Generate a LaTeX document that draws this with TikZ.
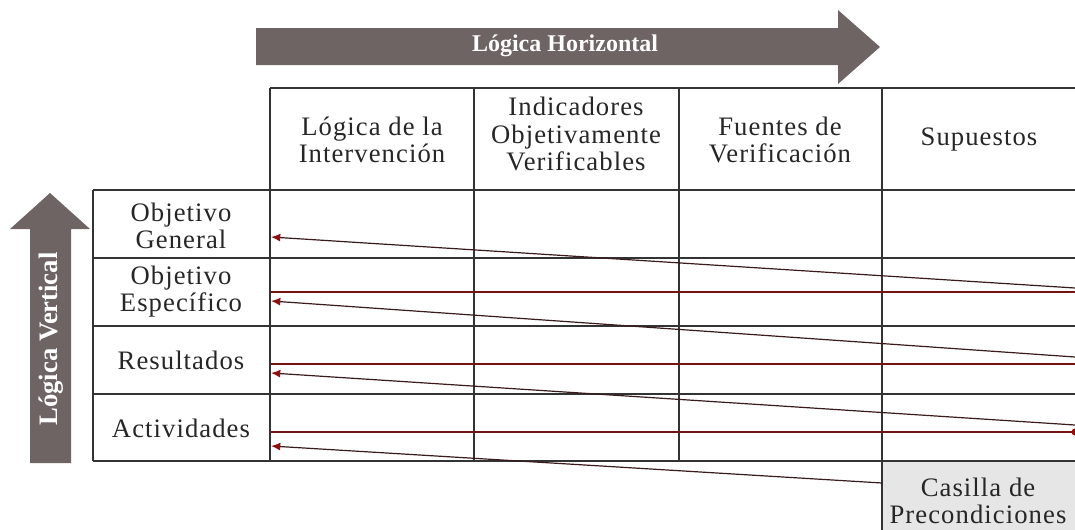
\documentclass[tikz,border=0pt]{standalone}
\usepackage{fontspec}
\setmainfont{Liberation Serif}
\newfontfamily\cellfont[LetterSpace=4]{Liberation Serif}
\usetikzlibrary{arrows.meta}
\definecolor{arrowgray}{HTML}{6D6463}
\definecolor{gridline}{HTML}{333333}
\definecolor{linkline}{HTML}{3A1A1A}
\definecolor{linkred}{HTML}{8E1010}
\definecolor{boxgray}{HTML}{E6E6E6}
\tikzset{
  cell/.style={align=center, font=\cellfont\fontsize{20}{20.3}\selectfont, text=black!85, inner sep=0pt},
  grid/.style={draw=gridline, line width=1.2pt},
  bigarrow/.style={fill=arrowgray, draw=none},
  arrowlabel/.style={font=\bfseries\fontsize{18}{18}\selectfont, text=white, inner sep=0pt},
  link/.style={draw=linkline, line width=0.9pt, -{Latex[length=7pt,width=6pt,color=linkred]}},
  hline/.style={draw=linkline!70!red, line width=0.8pt}
}
\begin{document}
\begin{tikzpicture}[x=0.75pt,y=-0.75pt]
\useasboundingbox (0,0) rectangle (1075,529);
\begin{scope}
\clip (0,0) rectangle (1075,529);
% Casilla box
\fill[boxgray] (882,461) rectangle (1080,535);
% top arrow
\path[bigarrow] (256,28) -- (838,28) -- (838,10) -- (880,47) -- (838,84) -- (838,65) -- (256,65) -- cycle;
\node[arrowlabel] (horiz) at (565,46) {Lógica Horizontal};
% left arrow
\path[bigarrow] (30,463) -- (30,229) -- (10,229) -- (50,193) -- (90,229) -- (71,229) -- (71,463) -- cycle;
\node[arrowlabel, font=\bfseries\fontsize{20}{20}\selectfont, rotate=90] (vert) at (51,339) {Lógica Vertical};
% grid
\draw[grid] (270,88) -- (1080,88);
\draw[grid] (93,190) -- (1080,190);
\draw[grid] (93,258) -- (1080,258);
\draw[grid] (93,326) -- (1080,326);
\draw[grid] (93,394) -- (1080,394);
\draw[grid] (93,461) -- (1080,461);
\draw[grid] (93,190) -- (93,461);
\draw[grid] (270,88) -- (270,461);
\draw[grid] (474,88) -- (474,461);
\draw[grid] (679,88) -- (679,461);
\draw[grid] (882,88) -- (882,535);
% header
\node[cell] (h1) at (372,140) {Lógica de la\\Intervención};
\node[cell] (h2) at (576,134) {Indicadores\\Objetivamente\\Verificables};
\node[cell] (h3) at (780,140) {Fuentes de\\Verificación};
\node[cell] (h4) at (979,140) {Supuestos};
% rows
\node[cell] (r1) at (181,226) {Objetivo\\General};
\node[cell] (r2) at (181,292) {Objetivo\\Específico};
\node[cell] (r3) at (181,360) {Resultados};
\node[cell] (r4) at (181,428) {Actividades};
\node[cell] (cas) at (978,501) {Casilla de\\Precondiciones};
% link points
\coordinate (a1) at (271,237);
\coordinate (b1) at (1075,288);
\coordinate (c2l) at (271,292);
\coordinate (c2r) at (1075,292);
\coordinate (a2) at (271,301);
\coordinate (b2) at (1075,357);
\coordinate (c3l) at (271,364);
\coordinate (c3r) at (1075,364);
\coordinate (a3) at (271,373);
\coordinate (b3) at (1075,425);
\coordinate (c4l) at (271,432);
\coordinate (c4r) at (1075,432);
\coordinate (a4) at (271,446);
\coordinate (b4) at (882,483);
\draw[hline] (c2l) -- (c2r);
\draw[hline] (c3l) -- (c3r);
\draw[hline] (c4l) -- (c4r);
\draw[link] (b1) -- (a1);
\draw[link] (b2) -- (a2);
\draw[link] (b3) -- (a3);
\draw[link] (b4) -- (a4);
\fill[linkred] (c4r) circle (3.5);
\end{scope}
\end{tikzpicture}
\end{document}
